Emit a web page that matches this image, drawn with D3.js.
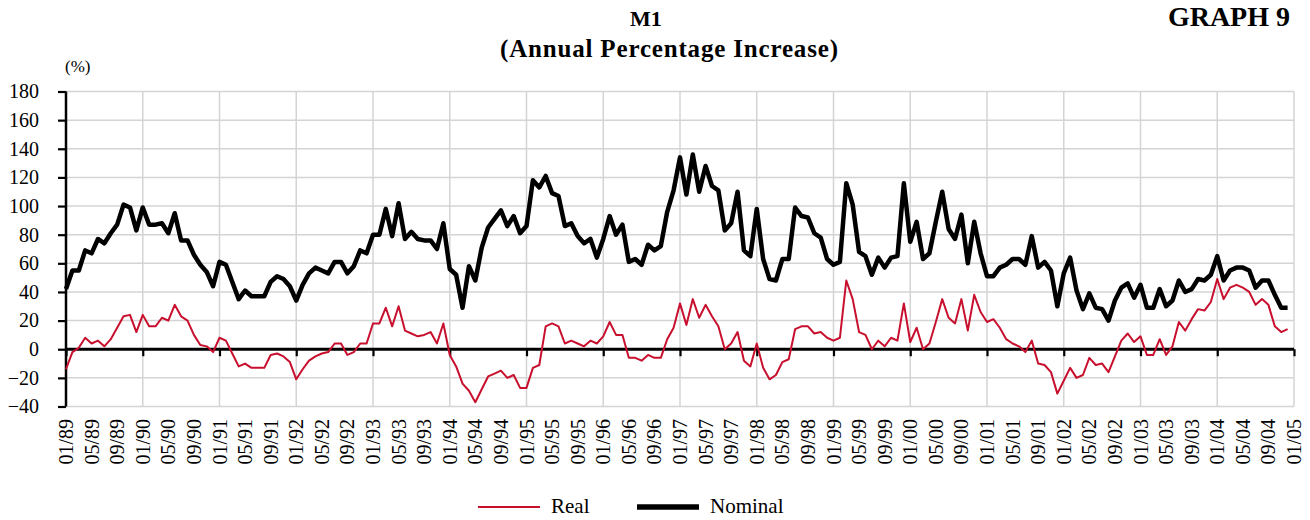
<!DOCTYPE html>
<html>
<head>
<meta charset="utf-8">
<script src="https://cdn.jsdelivr.net/npm/d3@7"></script>
<style>
  html, body { margin: 0; padding: 0; background: #fff; }
  svg { display: block; }
  svg text { font-family: "Liberation Serif", "DejaVu Serif", serif; }
</style>
</head>
<body>
<svg id="chart" width="1310" height="520"></svg>
<script>
// ---- data (monthly, 01/89 .. 12/04) ----
const yTicks = [-40, -20, 0, 20, 40, 60, 80, 100, 120, 140, 160, 180];
const xTickLabels = [
  "01/89","05/89","09/89","01/90","05/90","09/90","01/91","05/91","09/91",
  "01/92","05/92","09/92","01/93","05/93","09/93","01/94","05/94","09/94",
  "01/95","05/95","09/95","01/96","05/96","09/96","01/97","05/97","09/97",
  "01/98","05/98","09/98","01/99","05/99","09/99","01/00","05/00","09/00",
  "01/01","05/01","09/01","01/02","05/02","09/02","01/03","05/03","09/03",
  "01/04","05/04","09/04","01/05"
];
const nominal = [
  42,55,55,69,67,77,74,81,87,101,99,83,
  99,87,87,88,81,95,76,76,66,59,54,44,
  61,59,47,35,41,37,37,37,47,51,49,44,
  34,45,53,57,55,53,61,61,53,58,69,67,
  80,80,98,79,102,77,82,77,76,76,70,88,
  56,52,29,58,48,71,85,91,97,86,93,81,
  86,118,113,121,109,107,86,88,79,74,77,64,
  77,93,80,87,61,63,59,73,69,72,96,111,
  134,108,136,110,128,114,111,83,88,110,69,65,
  98,63,49,48,63,63,99,93,92,81,78,63,
  59,61,116,101,68,65,52,64,57,64,65,116,
  75,89,63,67,89,110,84,77,94,60,89,67,
  51,51,57,59,63,63,59,79,57,61,55,30,
  53,64,41,28,39,29,28,20,34,43,46,36,
  45,29,29,42,30,34,48,40,42,49,48,52,
  65,48,55,57,57,55,43,48,48,38,29,29
];
const real = [
  -14,-2,1,8,4,6,2,7,15,23,24,12,
  24,16,16,22,20,31,23,20,10,3,2,-2,
  8,6,-3,-12,-10,-13,-13,-13,-4,-3,-5,-9,
  -21,-14,-8,-5,-3,-2,4,4,-4,-2,4,4,
  18,18,29,16,30,13,11,9,10,12,4,18,
  -4,-12,-24,-29,-37,-28,-19,-17,-15,-20,-18,-27,
  -27,-13,-11,16,18,16,4,6,4,2,6,4,
  9,19,10,10,-6,-6,-8,-4,-6,-6,7,15,
  32,17,35,22,31,23,16,0,4,12,-8,-12,
  4,-13,-21,-18,-9,-7,14,16,16,11,12,8,
  6,8,48,35,12,10,0,6,2,8,6,32,
  5,15,0,4,19,35,22,18,35,13,38,26,
  19,21,15,7,4,2,-2,6,-10,-11,-16,-31,
  -22,-13,-20,-18,-6,-11,-10,-16,-5,6,11,5,
  9,-4,-4,7,-4,2,19,13,21,28,27,33,
  49,35,43,45,43,40,31,35,31,16,12,14
];
const seriesNames = ["Real", "Nominal"];
const seriesColors = ["#c8102e", "#000000"];

// ---- layout ----
const FONT = "Liberation Serif";
const svg = d3.select("#chart");
const x = d3.scaleLinear().domain([0, 192]).range([66, 1294]);
const y = d3.scaleLinear().domain([-40, 180]).range([406.5, 91.5]);
const grid = "#d4d4d4";

// horizontal gridlines
svg.append("g").selectAll("line").data(yTicks).join("line")
  .attr("x1", x(0)).attr("x2", x(192))
  .attr("y1", d => y(d)).attr("y2", d => y(d))
  .attr("stroke", grid).attr("stroke-width", 1.5);

// vertical gridlines at each January
const janIdx = d3.range(12, 193, 12);
svg.append("g").selectAll("line").data(janIdx).join("line")
  .attr("x1", d => x(d)).attr("x2", d => x(d))
  .attr("y1", y(180)).attr("y2", y(-40))
  .attr("stroke", grid).attr("stroke-width", 1.5);

// y axis
const yAxis = svg.append("g").attr("transform", `translate(${x(0)},0)`)
  .call(d3.axisLeft(y).tickValues(yTicks).tickSize(8).tickPadding(19).tickFormat(d3.format("d")))
  .attr("font-family", FONT).attr("font-size", 20);
yAxis.select(".domain").attr("stroke", "#000").attr("stroke-width", 2.5).attr("d", `M0,${y(180)}V${y(-40)}`);
yAxis.selectAll(".tick line").attr("stroke", "#000").attr("stroke-width", 2.2);
yAxis.selectAll(".tick text").attr("fill", "#000").style("font-family", FONT).style("font-size", "20px");

// x axis line at zero with yearly ticks
const xAxis = svg.append("g").attr("transform", `translate(0,${y(0)})`)
  .call(d3.axisBottom(x).tickValues(d3.range(0, 193, 12)).tickSize(7).tickFormat(""));
xAxis.select(".domain").attr("stroke", "#000").attr("stroke-width", 2.8).attr("d", `M${x(0)},0H${x(192)}`);
xAxis.selectAll(".tick line").attr("stroke", "#000").attr("stroke-width", 2.2);

// x tick labels (every 4 months) at bottom, rotated
svg.append("g").selectAll("text").data(xTickLabels).join("text")
  .attr("transform", (d, i) => `translate(${x(i * 4)},419) rotate(-90)`)
  .attr("text-anchor", "end").attr("dy", "0.35em")
  .style("font-family", FONT).style("font-size", "20px").attr("fill", "#000")
  .text(d => d);

// lines
const line = d3.line().x((d, i) => x(i)).y(d => y(d));
svg.append("path").datum(real).attr("d", line)
  .attr("fill", "none").attr("stroke", seriesColors[0]).attr("stroke-width", 2)
  .attr("stroke-linejoin", "round");
svg.append("path").datum(nominal).attr("d", line)
  .attr("fill", "none").attr("stroke", seriesColors[1]).attr("stroke-width", 4.5)
  .attr("stroke-linejoin", "round");

// titles
svg.append("text").attr("x", 646).attr("y", 26).attr("text-anchor", "middle")
  .style("font-size", "22px").attr("font-weight", "bold").text("M1");
svg.append("text").attr("x", 669).attr("y", 57).attr("text-anchor", "middle")
  .style("font-size", "25px").attr("font-weight", "bold")
  .attr("textLength", 338).attr("lengthAdjust", "spacing")
  .text("(Annual Percentage Increase)");
svg.append("text").attr("x", 1290).attr("y", 26).attr("text-anchor", "end")
  .style("font-size", "28px").attr("font-weight", "bold").text("GRAPH 9");
svg.append("text").attr("x", 65).attr("y", 72)
  .style("font-size", "17px").text("(%)");

// legend
const lg = svg.append("g");
const legendX = [478, 637];
seriesNames.forEach((name, i) => {
  lg.append("line").attr("x1", legendX[i]).attr("x2", legendX[i] + 62)
    .attr("y1", 507).attr("y2", 507)
    .attr("stroke", seriesColors[i]).attr("stroke-width", i === 0 ? 2 : 5.5);
  lg.append("text").attr("x", legendX[i] + 73).attr("y", 513)
    .style("font-size", "21px").text(name);
});
</script>
</body>
</html>
